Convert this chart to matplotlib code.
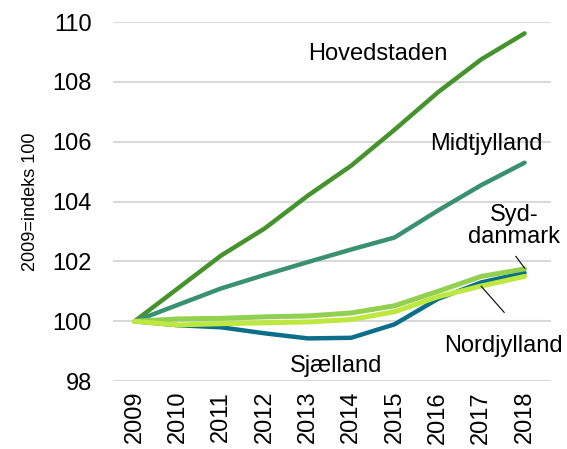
import matplotlib.pyplot as plt
import numpy as np

plt.rcParams['font.family'] = ['Liberation Sans', 'DejaVu Sans']

years = ['2009', '2010', '2011', '2012', '2013', '2014', '2015', '2016', '2017', '2018']
hovedstaden = [100, 101.1, 102.2, 103.1, 104.2, 105.2, 106.4, 107.65, 108.75, 109.62]
midtjylland = [100, 100.55, 101.1, 101.55, 101.98, 102.4, 102.8, 103.7, 104.55, 105.3]
sjaelland = [100, 99.87, 99.8, 99.6, 99.43, 99.45, 99.9, 100.75, 101.3, 101.62]
syddanmark = [100, 100.08, 100.1, 100.15, 100.18, 100.28, 100.52, 101.0, 101.5, 101.75]
nordjylland = [100, 99.88, 99.92, 99.95, 99.98, 100.06, 100.32, 100.82, 101.18, 101.5]

fig = plt.figure(figsize=(5.67, 4.49), dpi=100)
ax = fig.add_axes([0.199, 0.151, 0.772, 0.8])

x = np.arange(len(years))
ax.plot(x, hovedstaden, color='#45932d', lw=3.2, solid_capstyle='round')
ax.plot(x, midtjylland, color='#3a9170', lw=3.2, solid_capstyle='round')
ax.plot(x, sjaelland, color='#0c6e89', lw=3.2, solid_capstyle='round')
ax.plot(x, syddanmark, color='#92d050', lw=3.6, solid_capstyle='round')
ax.plot(x, nordjylland, color='#bde83f', lw=3.6, solid_capstyle='round')

ax.set_xlim(-0.5, 9.6)
ax.set_ylim(98, 110)
ax.set_yticks(np.arange(98, 111, 2))
ax.set_xticks(x)
ax.set_xticklabels(years, rotation=90)
ax.tick_params(labelsize=17, length=0)
ax.tick_params(axis='y', pad=15)
ax.tick_params(axis='x', pad=7)
ax.grid(axis='y', color='#d9d9d9', lw=1.5)
ax.set_axisbelow(True)
for s in ax.spines.values():
    s.set_visible(False)
ax.set_ylabel('2009=indeks 100', fontsize=13, labelpad=10)

fs = 17
ax.text(5.61, 108.93, 'Hovedstaden', fontsize=fs, ha='center', va='center')
ax.text(8.13, 105.93, 'Midtjylland', fontsize=fs, ha='center', va='center')
ax.text(8.75, 103.2, 'Syd-\ndanmark', fontsize=fs, ha='center', va='center', linespacing=1.0)
ax.text(8.52, 99.17, 'Nordjylland', fontsize=fs, ha='center', va='center')
ax.text(4.65, 98.5, 'Sjælland', fontsize=fs, ha='center', va='center')
ax.plot([8.8, 9.0], [102.17, 101.78], color='black', lw=0.8)
ax.plot([8.0, 8.53], [101.17, 100.3], color='black', lw=0.8)

fig.savefig('out.png', dpi=100)
